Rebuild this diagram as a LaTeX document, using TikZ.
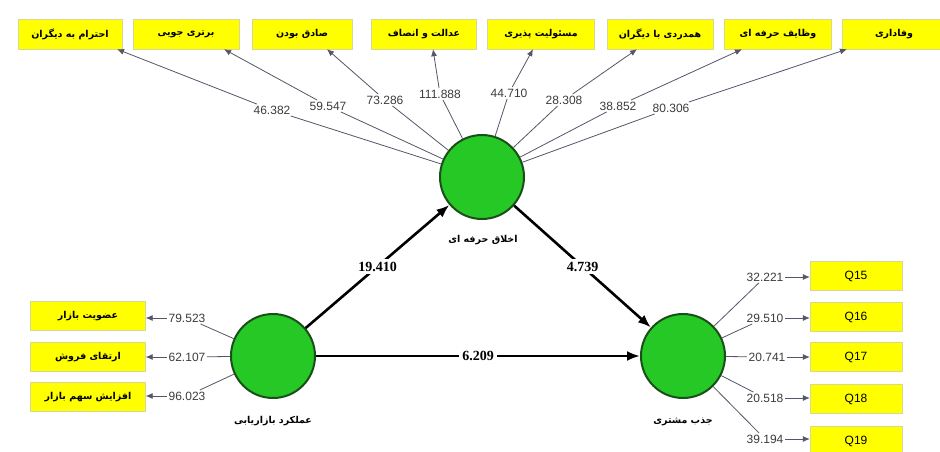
\documentclass[tikz,border=0pt]{standalone}
\usepackage{fontspec}
\setmainfont{Liberation Sans}
\newfontfamily\serfont{Liberation Serif}
\newfontfamily\fafont[Script=Arabic]{DejaVu Sans}
\TeXXeTstate=1
\usetikzlibrary{arrows.meta,calc}
\newcommand{\fa}[1]{{\fafont\beginR #1\endR}}
\definecolor{lvgreen}{RGB}{38,200,38}
\definecolor{lvborder}{RGB}{25,80,25}
\definecolor{boxyellow}{RGB}{255,255,0}
\definecolor{boxline}{RGB}{215,215,150}
\definecolor{numgray}{RGB}{60,60,60}
\definecolor{linegray}{RGB}{85,85,105}
\begin{document}
\begin{tikzpicture}[x=1pt,y=-1pt,
  ybox/.style={draw=boxline, fill=boxyellow, minimum height=30pt, inner sep=2pt,
    font=\fafont\bfseries\fontsize{9.5}{11}\selectfont},
  qbox/.style={draw=boxline, fill=boxyellow, minimum height=29pt, minimum width=92pt,
    inner sep=2pt, font=\fontsize{12}{14}\selectfont},
  lv/.style={circle, draw=lvborder, line width=2pt, fill=lvgreen, minimum size=84pt, inner sep=0pt},
  lvname/.style={font=\fafont\bfseries\fontsize{9.5}{11}\selectfont},
  num/.style={font=\fontsize{12}{14}\selectfont, text=numgray, inner sep=1.5pt},
  outer/.style={draw=linegray, line width=0.8pt},
  oarr/.style={outer, -{Latex[length=7pt,width=6pt]}},
  mainarr/.style={line width=2.6pt, -{Latex[length=13pt,width=10pt]}},
  coef/.style={font=\serfont\bfseries\fontsize{14}{16}\selectfont, fill=white, inner sep=3pt}]
\useasboundingbox (0,0) rectangle (940,452);
\fill[white] (0,0) rectangle (940,452);

% latent variables
\node[lv] (ethic) at (482,177) {};
\node[lv] (mkt) at (273,356) {};
\node[lv] (cust) at (683,356) {};
\node[lvname] (ethicname) at (483,240) {\fa{اخلاق حرفه ای}};
\node[lvname] (mktname) at (273,421) {\fa{عملکرد بازاریابی}};
\node[lvname] (custname) at (683,422) {\fa{جذب مشتری}};

% top indicator boxes
\node[ybox, minimum width=104pt] (b1) at (70,34) {\fa{احترام به دیگران}};
\node[ybox, minimum width=106pt] (b2) at (186,34) {\fa{برتری جویی}};
\node[ybox, minimum width=100pt] (b3) at (302,34) {\fa{صادق بودن}};
\node[ybox, minimum width=105pt] (b4) at (424,34) {\fa{عدالت و انصاف}};
\node[ybox, minimum width=107pt] (b5) at (541,34) {\fa{مسئولیت پذیری}};
\node[ybox, minimum width=106pt] (b6) at (660,34) {\fa{همدردی با دیگران}};
\node[ybox, minimum width=107pt] (b7) at (778,34) {\fa{وظایف حرفه ای}};
\node[ybox, minimum width=104pt] (b8) at (894,34) {\fa{وفاداری}};

\coordinate (t1) at ([xshift=47pt]b1.south);
\coordinate (t2) at ([xshift=38pt]b2.south);
\coordinate (t3) at ([xshift=25pt]b3.south);
\coordinate (t4) at ([xshift=9pt]b4.south);
\coordinate (t5) at ([xshift=-8pt]b5.south);
\coordinate (t6) at ([xshift=-23pt]b6.south);
\coordinate (t7) at ([xshift=-36pt]b7.south);
\coordinate (t8) at ([xshift=-47pt]b8.south);

\node[num] (l1) at (272,110) {46.382};
\node[num] (l2) at (328,106) {59.547};
\node[num] (l3) at (385,100) {73.286};
\node[num] (l4) at (440,94) {111.888};
\node[num] (l5) at (509,93) {44.710};
\node[num] (l6) at (564,100) {28.308};
\node[num] (l7) at (618,106) {38.852};
\node[num] (l8) at (671,108) {80.306};

\foreach \i in {1,...,8}{
  \draw[outer] (ethic) -- (l\i);
  \draw[oarr] (l\i) -- (t\i);
}

% left indicator boxes
\node[ybox, minimum width=115pt, minimum height=29pt] (m1) at (88,316) {\fa{عضویت بازار}};
\node[ybox, minimum width=115pt, minimum height=29pt] (m2) at (88,357) {\fa{ارتقای فروش}};
\node[ybox, minimum width=115pt, minimum height=29pt] (m3) at (88,397) {\fa{افزایش سهم بازار}};
\node[num] (ml1) at (187,318) {79.523};
\node[num] (ml2) at (187,357) {62.107};
\node[num] (ml3) at (187,396) {96.023};
\foreach \i in {1,2,3}{
  \draw[outer] (mkt) -- (ml\i);
  \draw[oarr] (ml\i.west) -- (m\i.east |- ml\i.west);
}

% right indicator boxes
\node[qbox] (q1) at (856,276) {Q15};
\node[qbox] (q2) at (856,317) {Q16};
\node[qbox] (q3) at (856,357) {Q17};
\node[qbox] (q4) at (856,399) {Q18};
\node[qbox] (q5) at (856,441) {Q19};
\node[num] (ql1) at (765,277) {32.221};
\node[num] (ql2) at (765,318) {29.510};
\node[num] (ql3) at (767,357) {20.741};
\node[num] (ql4) at (765,398) {20.518};
\node[num] (ql5) at (765,439) {39.194};
\foreach \i in {1,...,5}{
  \draw[outer] (cust) -- (ql\i);
  \draw[oarr] (ql\i.east) -- (q\i.west |- ql\i.east);
}

% structural paths
\draw[mainarr] (mkt) -- node[coef] (c1) {19.410} (ethic);
\draw[mainarr] (ethic) -- node[coef] (c2) {4.739} (cust);
\draw[mainarr] (mkt) -- node[coef] (c3) {6.209} (cust);
\end{tikzpicture}
\end{document}
